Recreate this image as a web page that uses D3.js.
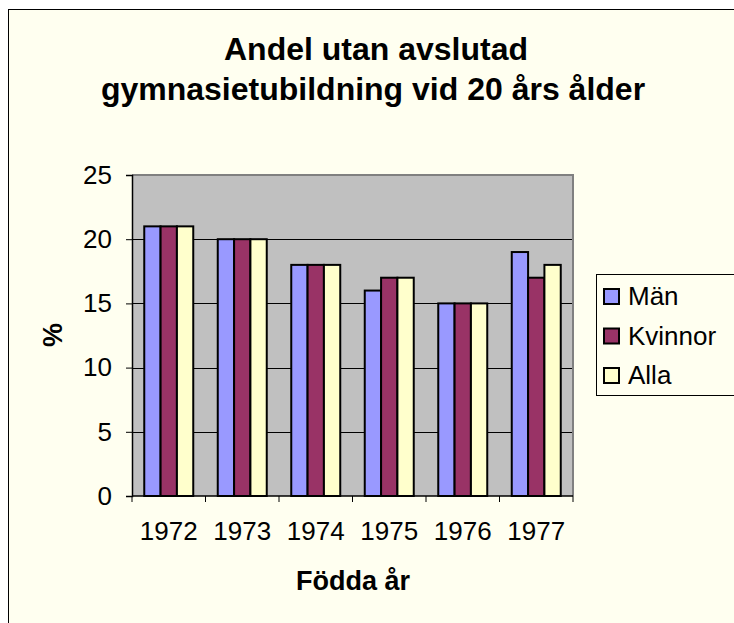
<!DOCTYPE html>
<html><head><meta charset="utf-8">
<script src="https://cdn.jsdelivr.net/npm/d3@7"></script>
<style>body{margin:0;background:#fff}svg{display:block}text{font-family:"Liberation Sans",Arial,sans-serif}</style>
</head><body>
<script>
const years = ["1972","1973","1974","1975","1976","1977"];
const seriesNames = ["Män","Kvinnor","Alla"];
const man = [21,20,18,16,15,19];
const kvinnor = [21,20,18,17,15,17];
const alla = [21,20,18,17,15,18];
const yTicks = [0,5,10,15,20,25];
const colors = ["#9999FF","#993366","#FFFFCC"];
const values = [man,kvinnor,alla];

const W=734,H=623;
const svg=d3.select("body").append("svg").attr("width",W).attr("height",H);
svg.append("rect").attr("x",8.5).attr("y",9.5).attr("width",W).attr("height",H).attr("fill","#FFFFF0").attr("stroke","#000").attr("stroke-width",1);

const L=132,R=573,T=175,B=496;
const step=(R-L)/years.length;
const x0=d3.scaleBand().domain(years).range([L,R]).padding(0);
const xs=d3.scaleBand().domain(seriesNames).range([0,step*3/4.5]);
const y=d3.scaleLinear().domain([0,25]).range([B,T]);

svg.append("rect").attr("x",L).attr("y",T).attr("width",R-L).attr("height",B-T).attr("fill","#C0C0C0");
svg.append("g").selectAll("line").data(yTicks.filter(d=>d>0&&d<25)).join("line")
 .attr("x1",L).attr("x2",R).attr("y1",d=>Math.round(y(d))+0.5).attr("y2",d=>Math.round(y(d))+0.5).attr("stroke","#000");
svg.append("path").attr("d",`M${L},${T}H${R}V${B}`).attr("fill","none").attr("stroke","#808080").attr("stroke-width",2);

const g=svg.append("g");
years.forEach((yr,i)=>{
  seriesNames.forEach((s,j)=>{
    const v=values[j][i];
    g.append("rect").attr("x",x0(yr)+step*0.75/4.5+xs(s)).attr("y",y(v)).attr("width",xs.bandwidth()).attr("height",y(0)-y(v))
     .attr("fill",colors[j]).attr("stroke","#000").attr("stroke-width",2);
  });
});

const ya=svg.append("g").attr("transform",`translate(${L},0)`).call(d3.axisLeft(y).tickValues(yTicks).tickSize(6).tickPadding(14));
ya.select(".domain").attr("stroke","#000").attr("stroke-width",1.5);
ya.selectAll("text").attr("font-size",26).attr("fill","#000").attr("font-family","Liberation Sans, Arial, sans-serif");
const xa=svg.append("g").attr("transform",`translate(0,${B})`).call(d3.axisBottom(x0).tickSize(0).tickPadding(26));
xa.select(".domain").remove();
xa.selectAll("text").attr("font-size",26).attr("fill","#000").attr("font-family","Liberation Sans, Arial, sans-serif");
svg.append("line").attr("x1",L).attr("x2",R).attr("y1",B).attr("y2",B).attr("stroke","#000").attr("stroke-width",1.5);
svg.append("g").selectAll("line").data(d3.range(years.length+1)).join("line")
 .attr("x1",d=>L+d*step).attr("x2",d=>L+d*step).attr("y1",B).attr("y2",B+6).attr("stroke","#000");

const title=svg.append("text").attr("text-anchor","middle").attr("font-weight","bold").attr("font-size",32);
title.append("tspan").attr("x",376).attr("y",60).text("Andel utan avslutad");
title.append("tspan").attr("x",373).attr("y",100).text("gymnasietubildning vid 20 års ålder");
svg.append("text").attr("x",353).attr("y",590).attr("text-anchor","middle").attr("font-weight","bold").attr("font-size",27).text("Födda år");
svg.append("text").attr("transform","translate(62,335) rotate(-90)").attr("text-anchor","middle").attr("font-weight","bold").attr("font-size",27).text("%");

const lg=svg.append("g");
lg.append("rect").attr("x",596.5).attr("y",274.5).attr("width",160).attr("height",121).attr("fill","#FFFFF0").attr("stroke","#000");
seriesNames.forEach((s,j)=>{
  const cy=296+j*39.5;
  lg.append("rect").attr("x",604).attr("y",cy-7).attr("width",15).attr("height",15).attr("fill",colors[j]).attr("stroke","#000").attr("stroke-width",2);
  lg.append("text").attr("x",628).attr("y",cy+9).attr("font-size",26).text(s);
});
</script>
</body></html>
